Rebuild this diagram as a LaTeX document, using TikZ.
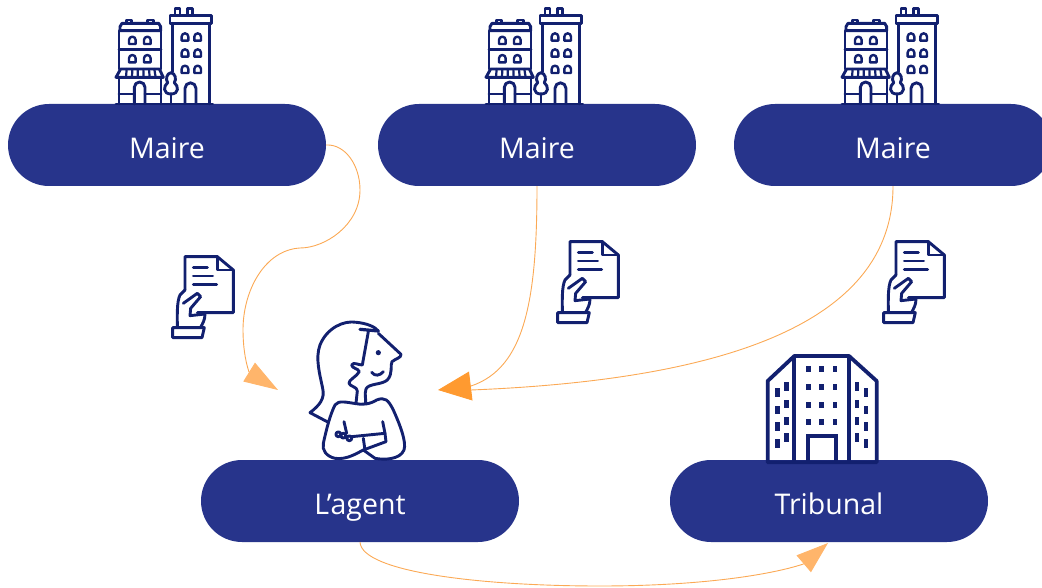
\documentclass[tikz,border=0pt]{standalone}
\usepackage{fontspec}
\setmainfont{Open Sans}
\usetikzlibrary{arrows.meta}
\definecolor{pillblue}{HTML}{27348B}
\definecolor{icon}{HTML}{12206F}
\definecolor{lineor}{HTML}{FBA955}
\definecolor{arrowA}{HTML}{FFB56B}
\definecolor{arrowB}{HTML}{FF9A30}
\tikzset{
  pill/.style={fill=pillblue,text=white,rounded corners=41pt,minimum width=318pt,minimum height=82pt,inner sep=0pt,text height=29pt,text depth=2pt,font=\fontsize{28.5}{30}\selectfont},
  ic/.style={draw=icon,line width=2.9pt,line join=round,line cap=round},
  conn/.style={draw=lineor,line width=0.9pt},
  tipA/.style={-{Triangle[length=34pt,width=22pt,color=arrowA]}},
  tipB/.style={-{Triangle[length=33pt,width=29pt,color=arrowB]}},
  tipC/.style={-{Triangle[length=32pt,width=22pt,color=arrowA]}},
  win/.pic={\draw[ic,line width=2.4pt] (-10,12) -- (-10,0) arc[start angle=180,end angle=360,radius=10] -- (10,12) -- cycle;},
  cityicon/.pic={
    \begin{scope}[x=0.3333pt,y=-0.3333pt]
    \draw[ic] (80,72) rectangle (95,60);
    \draw[ic] (143,72) rectangle (160,60);
    \draw[ic] (60,92) -- (60,80) -- (66,70) -- (176,70) -- (182,80) -- (182,92) -- cycle;
    \draw[ic] (57,92) -- (57,207) (183,92) -- (183,207) (57,148) -- (183,148);
    \draw[ic] (48,232) -- (62,207) -- (178,207) -- (190,232) -- cycle;
    \draw[ic,line width=2.2pt] (80,207)--(78,232) (97,207)--(96,232) (113,207)--(113,232) (130,207)--(131,232) (147,207)--(149,232) (163,207)--(167,232);
    \draw[ic] (57,232) -- (57,312) (183,232) -- (183,312);
    \draw[ic] (103,312) -- (103,262) arc[start angle=180,end angle=360,radius=16] -- (135,312);
    \draw[ic] (57,282)--(103,282) (135,282)--(183,282);
    \foreach \a/\b in {97/120,142/120,97/175,142/175} \path (\a,\b) pic {win};
    \draw[ic] (225,47) rectangle (240,25);
    \draw[ic] (262,47) rectangle (278,25);
    \draw[ic] (210,47) rectangle (335,70);
    \draw[ic] (217,70) -- (217,215) (328,70) -- (328,312);
    \foreach \a in {255,293} \foreach \b in {110,158,207} \path (\a,\b) pic {win};
    \draw[ic] (255,312) -- (255,265) arc[start angle=180,end angle=360,radius=16.5] -- (288,312);
    \draw[ic] (213,312) -- (213,282);
    \draw[ic] (213,218) .. controls (200,220) and (196,238) .. (203,248) .. controls (190,258) and (188,282) .. (213,282) .. controls (238,282) and (236,258) .. (223,248) .. controls (230,238) and (226,220) .. (213,218) -- cycle;
    \draw[ic] (48,312) -- (338,312);
    \end{scope}
  },
  docicon/.pic={
    \begin{scope}[x=0.3333pt,y=-0.3333pt]
    \draw[ic] (75,135) -- (75,35) -- (172,35) -- (220,75) -- (220,203) -- (112,203);
    \draw[ic] (172,35) -- (172,75) -- (220,75);
    \draw[ic] (100,68)--(142,68) (100,93)--(158,93) (100,118)--(170,118);
    \draw[ic] (75,135) -- (60,150) .. controls (50,170) and (52,215) .. (52,247);
    \draw[ic] (70,175) -- (112,145) -- (122,155) -- (92,190) -- (90,212) -- (135,207) .. controls (135,225) and (128,235) .. (122,247);
    \draw[ic] (38,248) -- (133,248) -- (126,278) -- (38,278) -- cycle;
    \end{scope}
  },
}
\begin{document}
\begin{tikzpicture}[x=1pt,y=-1pt]
\useasboundingbox (0,0) rectangle (1042,588);
\node[pill] (m1) at (167,145) {Maire};
\node[pill] (m2) at (537,145) {Maire};
\node[pill] (m3) at (893,145) {Maire};
\node[pill] (ag) at (360,501) {L’agent};
\node[pill] (tr) at (829,501) {Tribunal};
\path (100,0) pic {cityicon};
\path (470,0) pic {cityicon};
\path (826,0) pic {cityicon};
\path (160,245) pic {docicon};
\path (545,230) pic {docicon};
\path (871,230) pic {docicon};
% agent
\begin{scope}[shift={(300,315)},x=0.3333pt,y=-0.3333pt]
\draw[ic] (85,322) -- (30,293) .. controls (60,270) and (75,250) .. (68,220) .. controls (60,180) and (45,130) .. (60,90) .. controls (80,40) and (130,15) .. (170,22) .. controls (200,25) and (225,35) .. (235,48);
\draw[ic,line width=3.2pt] (180,43) -- (235,48);
\draw[ic] (235,55) -- (303,118) .. controls (305,128) and (285,132) .. (276,140) .. controls (270,150) and (280,175) .. (262,195) .. controls (245,210) and (205,205) .. (198,222) .. controls (192,240) and (200,255) .. (196,265);
\draw[ic] (205,50) -- (187,150) .. controls (175,150) and (160,140) .. (155,150) .. controls (155,160) and (175,160) .. (178,170) .. controls (170,185) and (145,195) .. (147,205) .. controls (150,215) and (172,215) .. (172,228) -- (168,265);
\draw[ic] (70,385) .. controls (80,340) and (90,300) .. (105,270) .. controls (115,255) and (140,262) .. (168,266) .. controls (185,270) and (210,268) .. (230,255) .. controls (255,245) and (265,255) .. (280,285) .. controls (300,330) and (320,380) .. (312,405) .. controls (300,435) and (250,435) .. (225,430) -- (190,405) .. controls (170,415) and (140,435) .. (105,430) .. controls (80,425) and (65,405) .. (70,385);
\draw[ic] (248,320) -- (255,355) -- (258,380) -- (190,405);
\draw[ic] (155,365) -- (255,355);
\draw[ic] (190,370) -- (195,405);
\draw[ic] (132,320) -- (140,355);
\draw[ic] (115,358) circle[radius=2.4pt] (130,362) circle[radius=2.4pt] (148,370) circle[radius=2.4pt];
\fill[icon] (235,113) circle[radius=2.6pt];
\draw[ic] (215,172) .. controls (225,185) and (240,182) .. (250,170);
\end{scope}
% tribunal
\begin{scope}[shift={(755,345)},x=0.3333pt,y=-0.3333pt]
\draw[icon,line width=3.8pt,line join=round] (38,108) -- (118,33) -- (282,33) -- (365,108) -- (365,352) -- (38,352) -- cycle;
\draw[icon,line width=3.8pt] (118,33) -- (118,352) (282,33) -- (282,352);
\draw[icon,line width=3.8pt] (160,352) -- (160,272) -- (243,272) -- (243,352);
\foreach \a in {160,200,240} \foreach \b in {73,126,179,232}
  \fill[icon] (\a-7,\b-9) rectangle (\a+7,\b+9);
\foreach \a/\b in {94/125,94/177,94/228,94/278,68/143,68/195,68/245,68/295,306/125,306/177,306/228,306/278,333/143,333/195,333/245,333/295}
  \fill[icon] (\a-7,\b-13) rectangle (\a+7,\b+13);
\end{scope}
% connectors
\coordinate (a1) at (360,190);
\coordinate (a2) at (300,248);
\coordinate (a3) at (243,330);
\coordinate (b1) at (249,372);
\coordinate (t1) at (278,390);
\coordinate (b2) at (471,386);
\coordinate (b3) at (471,390);
\coordinate (t2) at (438,390);
\coordinate (b4) at (803.5,564);
\coordinate (t4) at (828,543);
\coordinate (c4) at (600,586);
\draw[conn] (m1.east) .. controls (345,144) and (360,165) .. (a1) .. controls (360,225) and (325,248) .. (a2) .. controls (265,250) and (243,290) .. (a3) .. controls (243,345) and (245,360) .. (b1);
\draw[conn,tipA] (b1) -- (t1);
\draw[conn] (m2.south) .. controls (537,300) and (525,368) .. (b2);
\draw[conn] (m3.south) .. controls (893,325) and (720,380) .. (b3);
\draw[conn,tipB] (b2) -- (t2);
\draw[conn] (ag.south) .. controls (362,572) and (480,586) .. (c4) .. controls (700,586) and (770,575) .. (b4);
\draw[conn,tipC] (b4) -- (t4);
\end{tikzpicture}
\end{document}
